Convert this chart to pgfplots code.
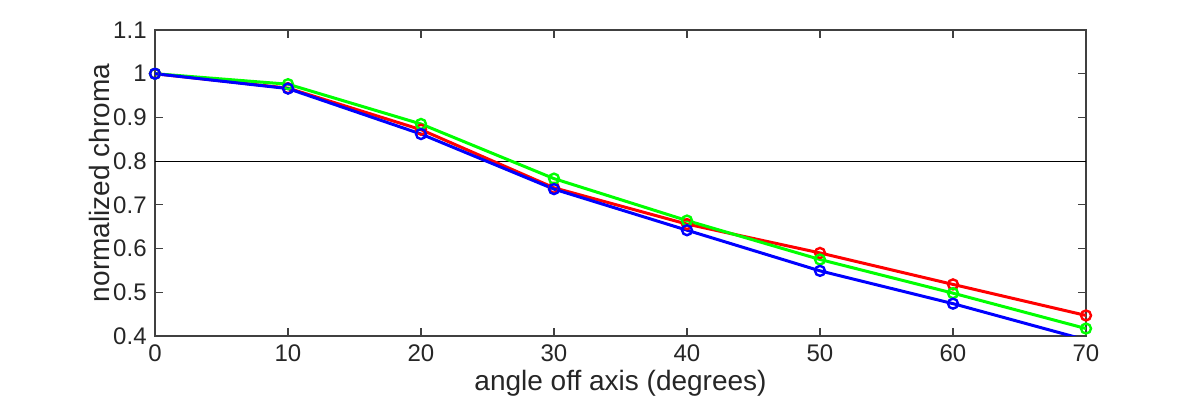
\documentclass[border=0pt]{standalone}
\usepackage{fontspec}
\setmainfont{Liberation Sans}
\usepackage{pgfplots}
\pgfplotsset{compat=1.18}
\begin{document}
\fontsize{12}{14}\selectfont
\begin{tikzpicture}
\path[use as bounding box] (0,0) rectangle (600pt,200pt);
\begin{axis}[
  at={(77.5pt,32pt)}, anchor=south west,
  scale only axis, width=465.5pt, height=153pt,
  xmin=0, xmax=70, ymin=0.4, ymax=1.1,
  xtick={0,10,...,70},
  ytick={0.4,0.5,0.6,0.7,0.8,0.9,1,1.1},
  yticklabels={0.4,0.5,0.6,0.7,0.8,0.9,1,1.1},
  tick align=inside, major tick length=4pt,
  xtick pos=both, ytick pos=both,
  axis line style={draw=black!75, line width=0.6pt},
  tick style={draw=black!75, line width=0.6pt},
  ticklabel style={font=\fontsize{12}{14}\selectfont, text=black!85},
  /pgf/number format/assume math mode=true,
  xlabel={angle off axis (degrees)},
  ylabel={normalized chroma},
  label style={font=\fontsize{14}{16}\selectfont, text=black!85},
  xlabel style={yshift=4pt},
  ylabel style={yshift=-6.5pt},
  clip=true,
  every axis plot/.append style={line width=1.5pt, mark=o, mark size=2.5pt, mark options={line width=1.2pt}},
]
\addplot[black, line width=0.6pt, mark=none, forget plot] coordinates {(0,0.8) (70,0.8)};
\addplot[color={rgb,1:red,1;green,0;blue,0}] coordinates {
(0,1) (10,0.967) (20,0.872) (30,0.739) (40,0.656) (50,0.590) (60,0.518) (70,0.447)};
\addplot[color={rgb,1:red,0;green,1;blue,0}] coordinates {
(0,1) (10,0.976) (20,0.885) (30,0.760) (40,0.664) (50,0.575) (60,0.498) (70,0.417)};
\addplot[color={rgb,1:red,0;green,0;blue,1}] coordinates {
(0,1) (10,0.966) (20,0.862) (30,0.736) (40,0.642) (50,0.549) (60,0.474) (70,0.391)};
\end{axis}
\end{tikzpicture}
\end{document}
